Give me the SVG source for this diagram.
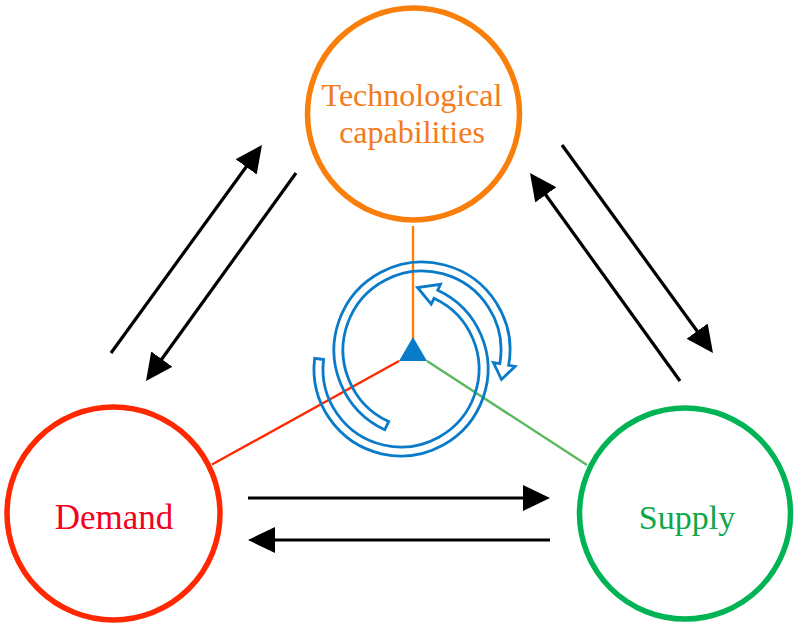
<svg xmlns="http://www.w3.org/2000/svg" width="797" height="627" viewBox="0 0 797 627">
<style>
.node{fill:none;stroke-width:5.5}
.lbl{font-family:"Liberation Serif","Times New Roman",serif;text-anchor:middle}
.arr{stroke:#000;stroke-width:3.2;fill:none;marker-end:url(#head)}
.cyc{fill:none;stroke:#0A7BC8;stroke-width:2.8;stroke-linejoin:miter}
</style>
<defs>
<marker id="head" viewBox="0 0 27 26" refX="7" refY="13" markerWidth="27" markerHeight="26" markerUnits="userSpaceOnUse" orient="auto">
<path d="M0,0 L27,13 L0,26 z" fill="#000"/>
</marker>
</defs>
<rect width="797" height="627" fill="#fff"/>
<g id="connectors">
<line x1="413" y1="226" x2="413" y2="339" stroke="#FF8000" stroke-width="2.4"/>
<line x1="399" y1="361" x2="212" y2="464.5" stroke="#FF2A00" stroke-width="2.4"/>
<line x1="427" y1="361" x2="587" y2="465" stroke="#5BB85D" stroke-width="2.4"/>
<line class="arr" x1="248" y1="498" x2="530" y2="498"/>
<line class="arr" x1="550" y1="540" x2="268" y2="540"/>
<line class="arr" x1="111" y1="353" x2="250.25" y2="161.19"/>
<line class="arr" x1="296" y1="173" x2="157.7" y2="364.78"/>
<line class="arr" x1="680" y1="381" x2="541.7" y2="189.22"/>
<line class="arr" x1="562" y1="145" x2="701.25" y2="336.81"/>
</g>
<g id="cycle">
<path class="cyc" d="M384.81,429.75 A88,88 0 1 1 508.66,365.28 L515.06,366.41 L501.5,379.5 L493.40,362.59 L499.80,363.72 A79,79 0 1 0 388.61,421.60 Z"/>
<path class="cyc" d="M314.65,358.40 A87,87 0 1 0 437.77,290.15 L440.51,284.26 L417.5,287.5 L431.22,304.20 L433.96,298.31 A78,78 0 1 1 323.58,359.49 Z"/>
<polygon points="413,337 399,361 427,361" fill="#0A7BC8"/>
</g>
<g id="tech">
<circle class="node" cx="413.5" cy="114" r="106" stroke="#FA7F0A"/>
<text class="lbl" x="412" y="106" font-size="32" fill="#F47A1A">Technological</text>
<text class="lbl" x="412" y="143" font-size="32" fill="#F47A1A">capabilities</text>
</g>
<g id="demand">
<circle class="node" cx="113.5" cy="513.5" r="106.5" stroke="#FF2800"/>
<text class="lbl" x="114" y="529" font-size="35" fill="#F5001E">Demand</text>
</g>
<g id="supply">
<circle class="node" cx="685" cy="513.5" r="105.5" stroke="#00B455"/>
<text class="lbl" x="687" y="529" font-size="34" fill="#0DA84A">Supply</text>
</g>
</svg>
